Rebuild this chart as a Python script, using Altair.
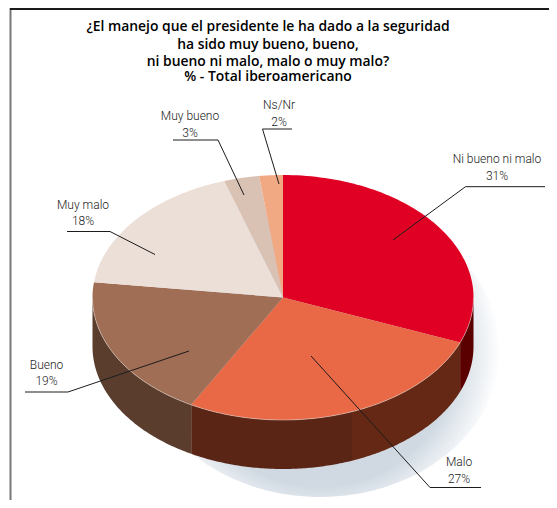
import numpy as np
import pandas as pd
import altair as alt

# --- chart values ---
labels = ["Ni bueno ni malo", "Malo", "Bueno", "Muy malo", "Muy bueno", "Ns/Nr"]
shares = [31, 27, 19, 18, 3, 2]
top_colors = ["#e00024", "#e96845", "#a06d55", "#ecdfd7", "#d9c1b4", "#f1a983"]
wall_colors = ["#5a0000", "#642815", "#5a3d2d", "#ecdfd7", "#d9c1b4", "#f1a983"]
title_lines = [
    "¿El manejo que el presidente le ha dado a la seguridad",
    "ha sido muy bueno, bueno,",
    "ni bueno ni malo, malo o muy malo?",
    "% - Total iberoamericano",
]

# --- layout (page pixels) ---
W, H = 549, 500
CX, CY, RX, RY, DEPTH = 283.0, 297.5, 190.5, 122.5, 49.0
MALO_WALL_SPLIT = 44.1
MALO_WALL_DARK = "#5a2514"
callouts = {
    "Ni bueno ni malo": dict(pts=[(393, 240), (465.5, 186.7), (545, 186.7)], tx=497, ty=(163, 180)),
    "Malo": dict(pts=[(311, 356), (430, 487.5), (481, 487.5)], tx=459, ty=(466, 483)),
    "Bueno": dict(pts=[(189, 351), (68, 392), (25, 392)], tx=46.5, ty=(369, 385)),
    "Muy malo": dict(pts=[(155, 254.5), (110, 231.5), (67, 231.5)], tx=83, ty=(209, 225)),
    "Muy bueno": dict(pts=[(244, 195), (218, 140), (173, 140)], tx=190, ty=(120, 137)),
    "Ns/Nr": dict(pts=[(279, 184), (262.5, 129), (292, 129)], tx=279, ty=(109, 126)),
}
title_y = [31, 49, 66, 80.5]
TITLE_X = 268


def rim(p0, p1, yoff=0.0, n=80):
    a = np.radians(np.linspace(p0, p1, n) * 3.6)
    return CX + RX * np.sin(a), CY + yoff - RY * np.cos(a)


def poly_rows(name, color, xs, ys):
    return [dict(slice=name, color=color, i=k, x=float(a), y=float(b))
            for k, (a, b) in enumerate(zip(xs, ys))]


X = alt.X("x:Q", scale=alt.Scale(domain=[8, W]), axis=None)
Y = alt.Y("y:Q", scale=alt.Scale(domain=[H, 8]), axis=None)

starts = np.concatenate([[0], np.cumsum(shares)[:-1]])
ends = np.cumsum(shares)

# top face
top_rows = []
for name, col, s, e in zip(labels, top_colors, starts, ends):
    xs, ys = rim(s, e)
    top_rows += poly_rows(name, col, np.r_[CX, xs], np.r_[CY, ys])

# walls: only the front half (25 % .. 75 % of the turn) is visible
wall_rows = []
for name, col, s, e in zip(labels, wall_colors, starts, ends):
    s2, e2 = max(s, 25), min(e, 75)
    if e2 <= s2:
        continue
    cuts = [(s2, e2, col)]
    if name == "Malo":
        cuts = [(s2, MALO_WALL_SPLIT, col), (MALO_WALL_SPLIT, e2, MALO_WALL_DARK)]
    for c0, c1, cc in cuts:
        xa, ya = rim(c0, c1)
        xb, yb = rim(c1, c0, DEPTH)
        wall_rows += poly_rows(f"{name}{c0}", cc, np.r_[xa, xb], np.r_[ya, yb])

# soft shadow
sx, sy = rim(0, 100, n=200)
shadow_rows = poly_rows("shadow", "s", (sx - CX) * 180 / RX + 320, (sy - CY) * 147 / RY + 350)

# front rim highlight
hx, hy = rim(25, 75, n=200)
rim_df = pd.DataFrame({"x": hx, "y": hy, "i": np.arange(len(hx))})

shadow = alt.Chart(pd.DataFrame(shadow_rows)).mark_line(
    filled=True, interpolate="linear-closed",
    color=alt.Gradient(gradient="radial", x1=0.5, y1=0.5, x2=0.5, y2=0.5, r1=0, r2=0.5,
                       stops=[alt.GradientStop(offset=0.76, color="#d0d9e2"),
                              alt.GradientStop(offset=0.87, color="#e6ebf0"),
                              alt.GradientStop(offset=1, color="#ffffff")]),
).encode(x=X, y=Y, order="i:Q")

walls = alt.Chart(pd.DataFrame(wall_rows)).mark_line(
    filled=True, interpolate="linear-closed"
).encode(x=X, y=Y, order="i:Q", detail="slice:N", color=alt.Color("color:N", scale=None))

tops = alt.Chart(pd.DataFrame(top_rows)).mark_line(
    filled=True, interpolate="linear-closed"
).encode(x=X, y=Y, order="i:Q", detail="slice:N", color=alt.Color("color:N", scale=None))

rim_line = alt.Chart(rim_df).mark_line(color="#e8dcd6", strokeWidth=0.7, opacity=0.7).encode(
    x=X, y=Y, order="i:Q")

# callouts
lead_rows, text_rows = [], []
for name, share in zip(labels, shares):
    c = callouts[name]
    for k, (a, b) in enumerate(c["pts"]):
        lead_rows.append(dict(slice=name, i=k, x=a, y=b))
    text_rows.append(dict(x=c["tx"], y=c["ty"][0], t=name))
    text_rows.append(dict(x=c["tx"], y=c["ty"][1], t=f"{share}%"))

leaders = alt.Chart(pd.DataFrame(lead_rows)).mark_line(color="#1c1c1c", strokeWidth=1).encode(
    x=X, y=Y, order="i:Q", detail="slice:N")

texts = alt.Chart(pd.DataFrame(text_rows)).mark_text(
    font="Roboto", fontSize=12, fontWeight=300, color="#222222", align="center", baseline="alphabetic"
).encode(x=X, y=Y, text="t:N")

title_df = pd.DataFrame({"x": [TITLE_X] * len(title_lines), "y": title_y, "t": title_lines})
title = alt.Chart(title_df).mark_text(
    font="Open Sans", fontSize=13.9, fontWeight=600, color="#000000", align="center", baseline="alphabetic"
).encode(x=X, y=Y, text="t:N")

# frame (the page margin keeps it from reaching the very top of the window)
frame_top = alt.Chart(pd.DataFrame({"x": [10.0], "x2": [float(W)], "y": [8.0], "y2": [10.0]})).mark_rect(
    color="#1a1a1a").encode(x=X, x2="x2:Q", y=Y, y2="y2:Q")
frame_left = alt.Chart(pd.DataFrame({"x": [9.5], "x2": [11.5], "y": [8.0], "y2": [float(H)]})).mark_rect(
    color="#777777").encode(x=X, x2="x2:Q", y=Y, y2="y2:Q")

chart = alt.layer(shadow, walls, tops, rim_line, leaders, texts, title, frame_left, frame_top).properties(
    width=W - 8, height=H - 8, padding=0, autosize="none"
).configure_view(strokeWidth=0)

chart.save("out.html", embed_options={"renderer": "svg", "actions": False})
